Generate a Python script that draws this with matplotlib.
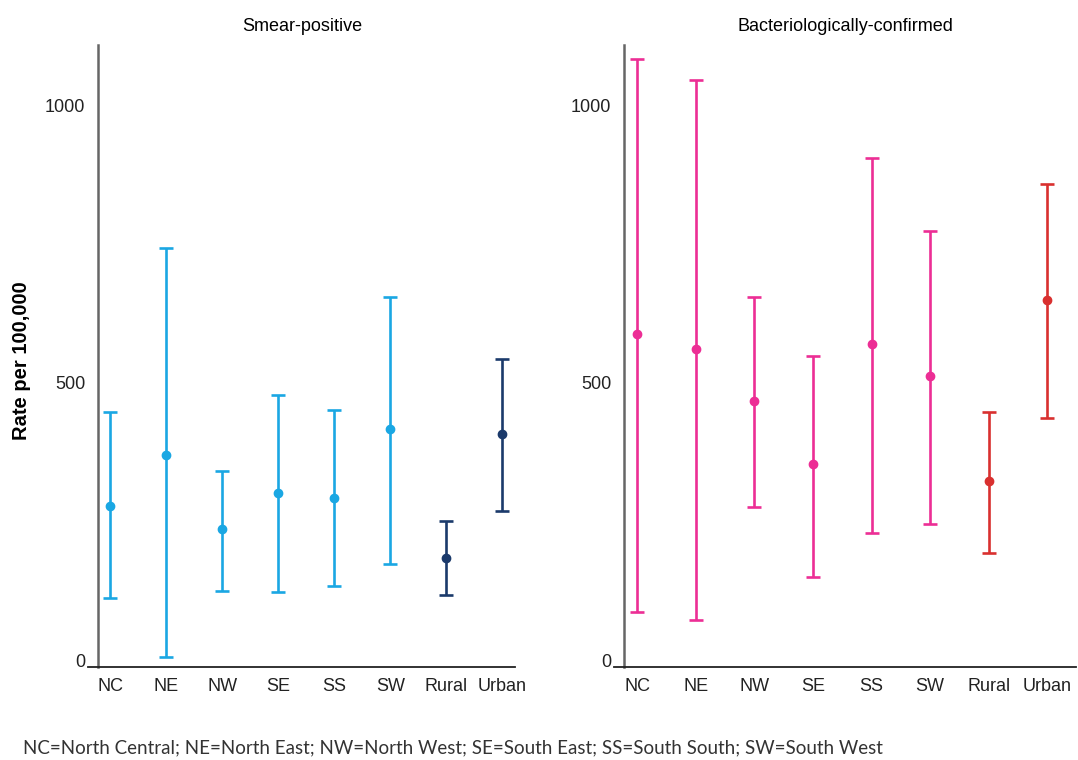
import matplotlib.pyplot as plt

regions = ['NC', 'NE', 'NW', 'SE', 'SS', 'SW', 'Rural', 'Urban']

# smear-positive: point estimate and 95% interval
smear_mid = [279, 370, 237, 302, 293, 417, 185, 408]
smear_lo = [113, 7, 126, 124, 135, 174, 119, 270]
smear_hi = [448, 743, 342, 478, 451, 655, 252, 543]

# bacteriologically-confirmed
bact_mid = [588, 561, 468, 354, 570, 513, 324, 649]
bact_lo = [88, 74, 277, 151, 230, 246, 194, 437]
bact_hi = [1083, 1045, 655, 549, 905, 773, 448, 858]

smear_colors = ['#1aa7e3'] * 6 + ['#1b3a6b'] * 2
bact_colors = ['#ec2e95'] * 6 + ['#d9302f'] * 2

plt.rcParams['font.family'] = ['Liberation Sans', 'DejaVu Sans']

fig = plt.figure(figsize=(10.78, 7.6), dpi=100)
ax1 = fig.add_axes([0.082, 0.1224, 0.396, 0.8184])
ax2 = fig.add_axes([0.570, 0.1224, 0.428, 0.8184])


def draw(ax, mid, lo, hi, colors, title, xmin, xmax, spine_x):
    for i in range(len(regions)):
        ax.errorbar(i, mid[i], yerr=[[mid[i] - lo[i]], [hi[i] - mid[i]]],
                    fmt='o', color=colors[i], ecolor=colors[i],
                    elinewidth=1.9, capsize=5, capthick=1.9, markersize=6)
    ax.set_xlim(xmin, xmax)
    ax.set_ylim(-11, 1108)
    ax.set_xticks(range(len(regions)))
    ax.set_xticklabels(regions)
    ax.set_yticks([0, 500, 1000])
    ax.tick_params(axis='both', length=0, labelsize=13, colors='#222222')
    ax.tick_params(axis='y', pad=9.5)
    ax.tick_params(axis='x', pad=8)
    ax.spines['top'].set_visible(False)
    ax.spines['right'].set_visible(False)
    ax.spines['left'].set_position(('data', spine_x))
    ax.spines['left'].set_color('#666666')
    ax.spines['left'].set_linewidth(1.8)
    ax.spines['bottom'].set_color('#222222')
    ax.spines['bottom'].set_linewidth(1.3)
    ax.set_title(title, fontsize=13, pad=10)


draw(ax1, smear_mid, smear_lo, smear_hi, smear_colors, 'Smear-positive', -0.39, 7.23, -0.21)
draw(ax2, bact_mid, bact_lo, bact_hi, bact_colors, 'Bacteriologically-confirmed', -0.39, 7.49, -0.22)

fig.text(0.020, 0.525, 'Rate per 100,000', rotation=90, fontsize=14.5,
         fontweight='bold', ha='center', va='center')

fig.text(0.021, 0.0158, 'NC=North Central; NE=North East; NW=North West; SE=South East; '
         'SS=South South; SW=South West', fontsize=13.5, color='#333333',
         va='center', family=['Lato', 'DejaVu Sans'])

fig.savefig('out.png', dpi=100)
